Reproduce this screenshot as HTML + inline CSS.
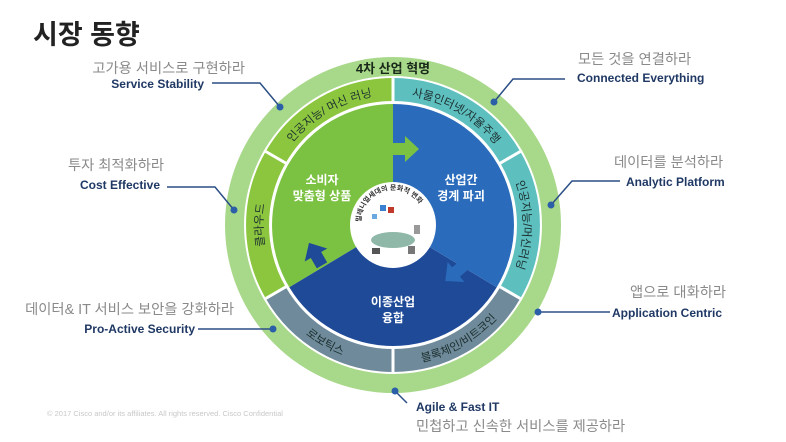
<!DOCTYPE html>
<html><head><meta charset="utf-8"><style>
body{margin:0;background:#fff;}
svg{display:block;font-family:"Liberation Sans","Noto Sans CJK KR",sans-serif;}
.g{fill:#8a8a8a;font-size:14.3px;}
.b{fill:#1f3864;font-size:12px;font-weight:bold;}
.bt{fill:#1c2f2f;font-size:11.5px;}
.w{fill:#fff;font-size:12px;font-weight:bold;}
</style></head><body>
<svg width="786" height="442" viewBox="0 0 786 442">
<defs>
<path id="pTL" d="M280.4,160 A130,130 0 0 1 393,95"/>
<path id="pTR" d="M393,95 A130,130 0 0 1 505.6,160"/>
<path id="pR" d="M505.6,160 A130,130 0 0 1 505.6,290"/>
<path id="pL" d="M280.4,290 A130,130 0 0 1 280.4,160"/>
<path id="pBL" d="M271.8,295 A140,140 0 0 0 393,365"/>
<path id="pBR" d="M393,365 A140,140 0 0 0 514.2,295"/>
<path id="pC" d="M361,222 A32,32 0 0 1 425,222"/>
</defs>
<text x="33" y="44" font-size="27" font-weight="bold" fill="#222">시장 동향</text>

<circle cx="393" cy="225" r="168" fill="#a8d88a"/>
<circle cx="393" cy="225" r="149" fill="#fff"/>
<g fill="none" stroke-width="23">
<path d="M393,89.5 A135.5,135.5 0 0 0 275.7,157.25" stroke="#8cc63f"/>
<path d="M275.7,157.25 A135.5,135.5 0 0 0 275.7,292.75" stroke="#8cc63f"/>
<path d="M275.7,292.75 A135.5,135.5 0 0 0 393,360.5" stroke="#6f8a9a"/>
<path d="M393,360.5 A135.5,135.5 0 0 0 510.3,292.75" stroke="#6f8a9a"/>
<path d="M510.3,292.75 A135.5,135.5 0 0 0 510.3,157.25" stroke="#5ebfbf"/>
<path d="M510.3,157.25 A135.5,135.5 0 0 0 393,89.5" stroke="#5ebfbf"/>
</g>
<g stroke="#fff" stroke-width="3">
<line x1="498.7" y1="164" x2="522" y2="150.5"/>
<line x1="287.3" y1="164" x2="264" y2="150.5"/>
<line x1="287.3" y1="286" x2="264" y2="299.5"/>
<line x1="498.7" y1="286" x2="522" y2="299.5"/>
<line x1="393" y1="103" x2="393" y2="76"/>
<line x1="393" y1="347" x2="393" y2="374"/>
</g>
<path d="M393,225 L393,104 A121,121 0 0 0 289.3,287.3 Z" fill="#7cc242"/>
<path d="M393,225 L289.3,287.3 A121,121 0 0 0 496.7,287.3 Z" fill="#1f4a98"/>
<path d="M393,225 L496.7,287.3 A121,121 0 0 0 393,104 Z" fill="#2a6cbb"/>
<polygon points="393,143 405,143 405,136 419,149 405,162 405,155 393,155" fill="#7cc242"/>
<g transform="translate(456,272) rotate(140)"><polygon points="-12,-6 0,-6 0,-13 14,0 0,13 0,6 -12,6" fill="#2a6cbb"/></g>
<g transform="translate(316,255) rotate(-120)"><polygon points="-12,-6 0,-6 0,-13 14,0 0,13 0,6 -12,6" fill="#1f4a98"/></g>
<circle cx="393" cy="225" r="43" fill="#fff"/>
<ellipse cx="393" cy="240" rx="22" ry="8" fill="#8fb8a8"/>
<rect x="380" y="205" width="6" height="6" fill="#3b7fd0"/><rect x="388" y="207" width="6" height="6" fill="#c0392b"/><rect x="372" y="214" width="5" height="5" fill="#6aa8e0"/>
<rect x="372" y="248" width="8" height="6" fill="#555"/><rect x="408" y="246" width="7" height="8" fill="#777"/><rect x="414" y="225" width="6" height="9" fill="#999"/>
<text font-size="7" fill="#333" font-weight="bold"><textPath href="#pC">밀레니얼세대의 문화적 변화</textPath></text>
<text class="bt"><textPath href="#pTL" startOffset="50%" text-anchor="middle">인공지능/ 머신 러닝</textPath></text>
<text class="bt"><textPath href="#pTR" startOffset="50%" text-anchor="middle">사물인터넷/자율주행</textPath></text>
<text class="bt"><textPath href="#pR" startOffset="50%" text-anchor="middle">인공지능/머신러닝</textPath></text>
<text class="bt"><textPath href="#pL" startOffset="50%" text-anchor="middle">클라우드</textPath></text>
<text class="bt"><textPath href="#pBL" startOffset="50%" text-anchor="middle">로보틱스</textPath></text>
<text class="bt"><textPath href="#pBR" startOffset="50%" text-anchor="middle">블록체인/비트코인</textPath></text>
<text x="393" y="73" text-anchor="middle" font-size="13" font-weight="bold" fill="#1a2a1a">4차 산업 혁명</text>
<text class="w" x="322" y="184" text-anchor="middle">소비자</text>
<text class="w" x="322" y="200" text-anchor="middle">맞춤형 상품</text>
<text class="w" x="461" y="184" text-anchor="middle">산업간</text>
<text class="w" x="461" y="200" text-anchor="middle">경계 파괴</text>
<text class="w" x="393" y="306" text-anchor="middle">이종산업</text>
<text class="w" x="393" y="322" text-anchor="middle">융합</text>
<g stroke="#2b4f86" stroke-width="1.5" fill="none">
<path d="M212,83 L260,83 L280,107"/>
<path d="M167,187 L215,187 L234,210"/>
<path d="M198,329 L273,329"/>
<path d="M565,79 L513,79 L494,102"/>
<path d="M620,181 L572,181 L551,205"/>
<path d="M610,312 L538,312"/>
<path d="M395,391 L407,403"/>
</g>
<g fill="#2b5fa8">
<circle cx="280" cy="107" r="3.5"/><circle cx="234" cy="210" r="3.5"/><circle cx="273" cy="329" r="3.5"/>
<circle cx="494" cy="102" r="3.5"/><circle cx="551" cy="205" r="3.5"/><circle cx="538" cy="312" r="3.5"/><circle cx="395" cy="391" r="3.5"/>
</g>
<text class="g" x="245" y="73" text-anchor="end">고가용 서비스로 구현하라</text>
<text class="b" x="204" y="88" text-anchor="end">Service Stability</text>
<text class="g" x="164" y="170" text-anchor="end">투자 최적화하라</text>
<text class="b" x="160" y="189" text-anchor="end">Cost Effective</text>
<text class="g" x="234" y="314" text-anchor="end">데이터&amp; IT 서비스 보안을 강화하라</text>
<text class="b" x="195" y="333" text-anchor="end">Pro-Active Security</text>
<text class="g" x="578" y="64">모든 것을 연결하라</text>
<text class="b" x="577" y="82">Connected Everything</text>
<text class="g" x="614" y="167">데이터를 분석하라</text>
<text class="b" x="626" y="186">Analytic Platform</text>
<text class="g" x="630" y="297">앱으로 대화하라</text>
<text class="b" x="612" y="317">Application Centric</text>
<text class="b" x="416" y="411">Agile &amp; Fast IT</text>
<text class="g" x="416" y="431">민첩하고 신속한 서비스를 제공하라</text>
<text x="47" y="416" font-size="7.5" fill="#c8c8c8">© 2017  Cisco and/or its affiliates. All rights reserved.    Cisco Confidential</text>
</svg>
</body></html>
